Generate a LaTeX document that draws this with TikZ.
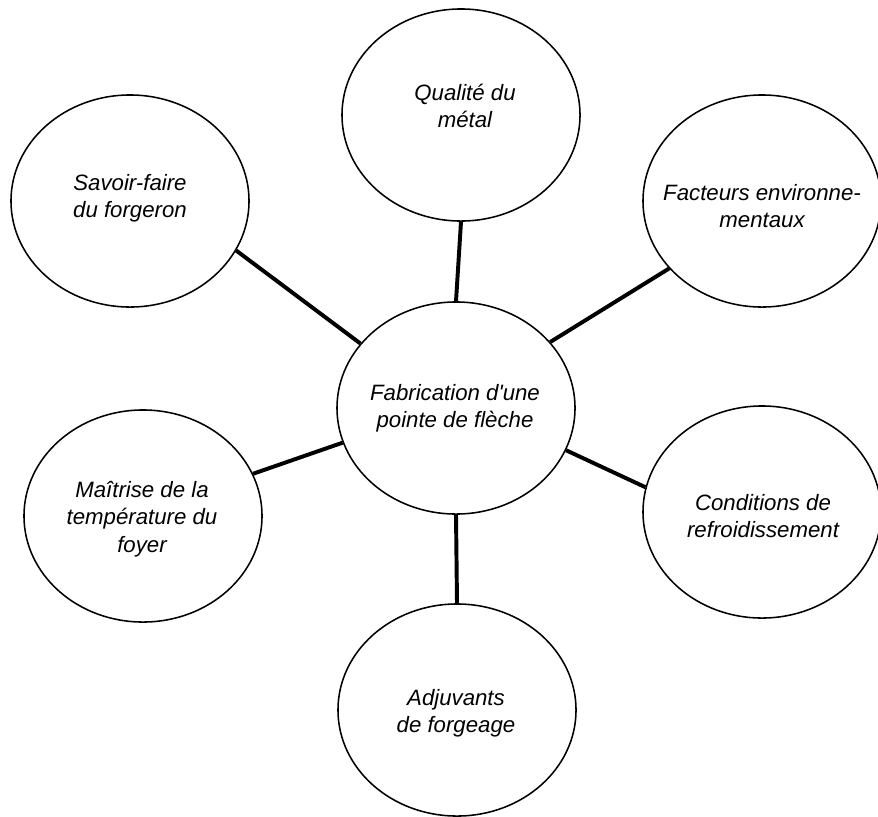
\documentclass[tikz,border=0pt]{standalone}
\usepackage{fontspec}
\setmainfont{Liberation Sans}
\usetikzlibrary{shapes.geometric}
\tikzset{
  bubble/.style={draw,ellipse,line width=1.1pt,minimum width=5.95cm,minimum height=5.3cm,inner sep=0pt},
  txt/.style={align=center,font=\itshape\fontsize{15.8}{19.5}\selectfont},
  link/.style={line width=2.8pt}
}

\begin{document}
\begin{tikzpicture}[x=0.025cm,y=-0.025cm]
                \useasboundingbox (0,0) rectangle (878,816);
                % ellipses
                \node[bubble] (ctr) at (456,408) {};
                \node[bubble] (metal) at (461,115) {};
                \node[bubble] (savoir) at (130,201) {};
                \node[bubble] (env) at (762,201) {};
                \node[bubble] (temp) at (143,516) {};
                \node[bubble] (refroid) at (762,512) {};
                \node[bubble] (adjuv) at (457,710) {};
                % texts
                \node[txt] (ctr-t) at (455,408) {Fabrication d\textquotesingle une\\pointe de flèche};
                \node[txt] (metal-t) at (465,106) {Qualité du\\métal};
                \node[txt] (savoir-t) at (130,198) {Savoir-faire\\du forgeron};
                \node[txt] (env-t) at (762,206) {Facteurs environne-\\mentaux};
                \node[txt] (temp-t) at (142,519) {Maîtrise de la\\température du\\foyer};
                \node[txt] (refroid-t) at (763,516) {Conditions de\\refroidissement};
                \node[txt] (adjuv-t) at (456,713) {Adjuvants\\de forgeage};
                % connectors
                \draw[link] (metal.south) -- (ctr.north);
                \draw[link] (savoir.-25) -- (ctr.146);
                \draw[link] (env.216) -- (ctr.35);
                \draw[link] (temp.21) -- (ctr.-163);
                \draw[link] (refroid.168) -- (ctr.-21);
                \draw[link] (adjuv.north) -- (ctr.south);
            \end{tikzpicture}
\end{document}
